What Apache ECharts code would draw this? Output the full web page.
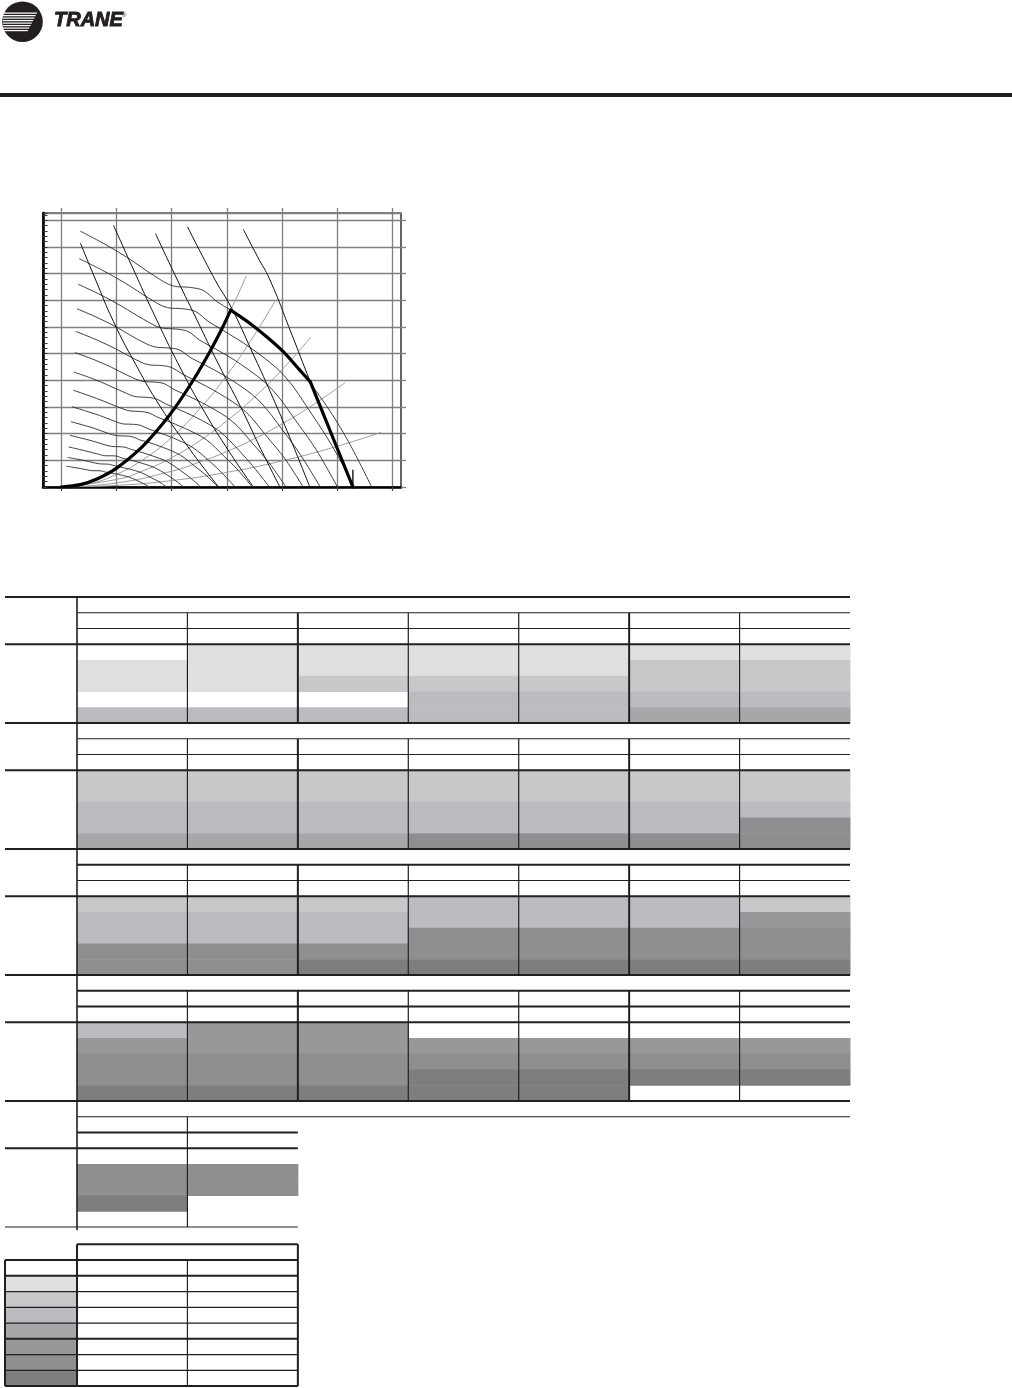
<!DOCTYPE html>
<html>
<head>
<meta charset="utf-8">
<script src="https://cdn.jsdelivr.net/npm/echarts@6.0.0/dist/echarts.min.js"></script>
<style>
  html, body { margin: 0; padding: 0; background: #fff; }
  #page { width: 1012px; height: 1388px; }
</style>
</head>
<body>
<div id="page"></div>
<script>
// ---- fan curve chart data (x: airflow units, y: pressure units) ----
// constant-speed curves, highest first
const fanCurves = [
  [[0.35,9.59],[0.83,9.06],[1.25,8.53],[1.67,7.94],[2.04,7.53],[2.34,7.48],[2.58,7.36],[2.82,6.95],[3.07,6.63],[3.42,6.13],[3.72,5.63],[4.02,5.07],[4.32,4.38],[4.80,3.05],[5.20,1.70],[5.62,0]],
  [[0.33,8.56],[0.78,8.09],[1.18,7.62],[1.58,7.09],[1.93,6.72],[2.21,6.68],[2.44,6.57],[2.66,6.21],[2.91,5.90],[3.46,5.17],[4.04,4.17],[4.54,2.72],[4.91,1.52],[5.31,0]],
  [[0.31,7.60],[0.74,7.18],[1.11,6.76],[1.49,6.29],[1.82,5.96],[2.08,5.92],[2.30,5.83],[2.51,5.50],[2.74,5.24],[3.26,4.59],[3.80,3.70],[4.27,2.42],[4.63,1.35],[5.00,0]],
  [[0.29,6.68],[0.69,6.32],[1.04,5.95],[1.39,5.53],[1.70,5.25],[1.95,5.21],[2.15,5.13],[2.35,4.84],[2.57,4.61],[3.06,4.04],[3.57,3.26],[4.01,2.13],[4.34,1.18],[4.69,0]],
  [[0.27,5.83],[0.65,5.51],[0.98,5.19],[1.30,4.83],[1.59,4.58],[1.83,4.55],[2.01,4.47],[2.20,4.23],[2.40,4.02],[2.85,3.52],[3.33,2.84],[3.74,1.85],[4.06,1.03],[4.38,0]],
  [[0.25,5.04],[0.60,4.77],[0.91,4.49],[1.21,4.18],[1.48,3.96],[1.70,3.93],[1.87,3.87],[2.04,3.66],[2.23,3.48],[2.65,3.05],[3.10,2.46],[3.48,1.60],[3.77,0.89],[4.07,0]],
  [[0.23,4.31],[0.56,4.07],[0.84,3.83],[1.12,3.57],[1.37,3.38],[1.57,3.36],[1.73,3.30],[1.89,3.12],[2.06,2.97],[2.45,2.60],[2.86,2.10],[3.22,1.37],[3.48,0.76],[3.77,0]],
  [[0.22,3.63],[0.51,3.42],[0.77,3.22],[1.03,3.00],[1.25,2.85],[1.44,2.83],[1.59,2.78],[1.73,2.63],[1.89,2.50],[2.25,2.19],[2.63,1.77],[2.95,1.15],[3.20,0.64],[3.46,0]],
  [[0.20,3.01],[0.46,2.84],[0.70,2.68],[0.94,2.49],[1.14,2.36],[1.31,2.35],[1.44,2.31],[1.58,2.18],[1.72,2.08],[2.05,1.82],[2.39,1.47],[2.69,0.96],[2.91,0.53],[3.15,0]],
  [[0.18,2.45],[0.42,2.31],[0.63,2.18],[0.84,2.02],[1.03,1.92],[1.18,1.91],[1.30,1.88],[1.42,1.77],[1.56,1.69],[1.85,1.48],[2.16,1.19],[2.42,0.78],[2.63,0.43],[2.84,0]],
  [[0.16,1.94],[0.37,1.83],[0.56,1.73],[0.75,1.61],[0.92,1.52],[1.05,1.51],[1.16,1.49],[1.27,1.41],[1.39,1.34],[1.65,1.17],[1.92,0.95],[2.16,0.62],[2.34,0.34],[2.53,0]],
  [[0.14,1.50],[0.33,1.41],[0.49,1.33],[0.66,1.24],[0.81,1.17],[0.92,1.17],[1.02,1.15],[1.11,1.08],[1.22,1.03],[1.45,0.90],[1.69,0.73],[1.90,0.48],[2.05,0.27],[2.22,0]],
  [[0.12,1.11],[0.28,1.05],[0.43,0.99],[0.57,0.92],[0.69,0.87],[0.80,0.86],[0.88,0.85],[0.96,0.80],[1.05,0.76],[1.24,0.67],[1.45,0.54],[1.63,0.35],[1.77,0.20],[1.91,0]],
  [[0.10,0.78],[0.24,0.73],[0.36,0.69],[0.48,0.64],[0.58,0.61],[0.67,0.61],[0.74,0.60],[0.80,0.56],[0.88,0.54],[1.04,0.47],[1.22,0.38],[1.37,0.25],[1.48,0.14],[1.60,0]]
];

// steep power lines
const powerLines = [
  [[0.35,9.15],[0.62,7.80],[0.95,6.20],[1.35,4.60],[1.80,3.00],[2.30,1.50],[2.85,0]],
  [[0.95,9.81],[1.30,8.20],[1.70,6.40],[2.15,4.50],[2.60,2.80],[3.05,1.30],[3.48,0]],
  [[1.71,9.50],[2.05,8.00],[2.45,6.30],[2.85,4.60],[3.25,3.00],[3.62,1.40],[3.96,0]],
  [[2.29,9.75],[2.79,7.75],[3.09,6.69],[3.45,5.10],[3.80,3.50],[4.15,1.80],[4.50,0]],
  [[3.30,9.65],[3.55,8.65],[3.78,7.76],[4.15,5.85],[4.51,3.94],[4.90,1.96],[5.28,0]]
];

// grey system curves from the origin
const systemCurves = [
  [[0,0],[0.5,0.18],[1,0.70],[1.5,1.58],[2,2.82],[2.5,4.40],[3,6.34],[3.35,7.90]],
  [[0,0],[0.5,0.12],[1,0.47],[1.5,1.05],[2,1.86],[2.5,2.91],[3,4.19],[3.5,5.70],[3.89,7.03]],
  [[0,0],[1,0.28],[1.5,0.62],[2,1.10],[2.5,1.72],[3,2.48],[3.5,3.37],[4,4.40],[4.52,5.62]],
  [[0,0],[1,0.15],[2,0.59],[2.5,0.93],[3,1.33],[3.5,1.81],[4,2.37],[4.5,3.00],[5.14,3.91]],
  [[0,0],[1,0.06],[2,0.24],[3,0.55],[4,0.98],[5,1.53],[5.79,2.05]]
];

// operating envelope (heavy line)
const envelopeSurge = [[0,0],[0.35,0.09],[0.65,0.30],[1.0,0.70],[1.43,1.43],[1.73,2.10],[2.04,2.91],[2.40,4.03],[2.70,5.10],[2.91,5.93],[3.07,6.63]];
const envelopeTop = [[3.07,6.63],[3.42,6.13],[3.72,5.63],[4.02,5.07],[4.32,4.38],[4.51,3.94]];
const envelopeEnd = [[4.51,3.94],[5.28,0]];
const endMarker = [[5.28,0],[5.28,0.65]];

const xTicks = [0, 1, 2, 3, 4, 5, 6];
const yTicks = [0, 1, 2, 3, 4, 5, 6, 7, 8, 9, 10];

// ---- table shading (index into shadeColors, 0 = blank), one list per column, rows top to bottom ----
const shadeColors = ['#dfe0e2', '#c7c8ca', '#bbbcc0', '#a6a7a9', '#97989a', '#8e8f91', '#7d7e80'];
const block1 = [[0,1,1,0,3],[1,1,1,0,3],[1,1,2,0,3],[1,1,2,3,3],[1,1,2,3,3],[1,2,2,3,4],[1,2,2,3,4]];
const block2 = [[2,2,3,3,4],[2,2,3,3,4],[2,2,3,3,4],[2,2,3,3,6],[2,2,3,3,6],[2,2,3,3,6],[2,2,3,6,6]];
const block3 = [[2,3,3,6,6],[2,3,3,6,6],[2,3,3,6,7],[3,3,6,6,7],[3,3,6,6,7],[3,3,6,6,7],[2,5,6,6,7]];
const block4 = [[3,5,6,6,7],[5,5,6,6,7],[5,5,6,6,7],[0,5,6,7,7],[0,5,6,7,7],[0,5,6,7,0],[0,5,6,7,0]];
const block5 = [[0,6,6,7,0],[0,6,6,0,0]];
const legendShades = [1, 2, 3, 4, 5, 6, 7];

const blocks = [block1, block2, block3, block4, block5];
const TX0 = -0.652;   // left edge of the row-header column (table x units)
const LEG = 41.1;     // first row of the legend table

function cellData() {
  const out = [];
  blocks.forEach((blk, k) => {
    blk.forEach((col, c) => {
      col.forEach((s, j) => {
        if (s) out.push([c, 8 * k + 3 + j, c + 1, 8 * k + 4 + j, s]);
      });
    });
  });
  legendShades.forEach((s, i) => out.push([TX0, LEG + 2 + i, 0, LEG + 3 + i, s]));
  return out;
}

function ruleData() {
  const R = 7, segs = [];
  const sub = [[1.2, 1.2], [1.2, 1.2], [2, 1.2], [2, 2]];
  for (let k = 0; k < 4; k++) {
    const t = 8 * k;
    segs.push([TX0, t, R, t, 2.2]);
    segs.push([0, t + 1, R, t + 1, sub[k][0]]);
    segs.push([0, t + 2, R, t + 2, sub[k][1]]);
    segs.push([TX0, t + 3, R, t + 3, 2.2]);
    for (let c = 1; c < 7; c++) segs.push([c, t + 1, c, t + 8, (c === 2 || c === 5) ? 2 : 1.2]);
  }
  const t = 32;
  segs.push([TX0, t, R, t, 2.2]);
  segs.push([0, t + 1, R, t + 1, 1.2]);
  segs.push([0, t + 2, 2, t + 2, 2]);
  segs.push([TX0, t + 3, 2, t + 3, 2.2]);
  segs.push([1, t + 1, 1, t + 8, 1.2]);
  segs.push([TX0, t + 8, 2, t + 8, 1.2]);
  segs.push([0, 0, 0, t + 8.2, 1.6]);
  // legend
  segs.push([0, LEG, 2, LEG, 2]);
  segs.push([TX0, LEG + 1, 2, LEG + 1, 2]);
  segs.push([TX0, LEG + 2, 2, LEG + 2, 2]);
  [3, 4, 5, 7, 8].forEach(i => segs.push([TX0, LEG + i, 2, LEG + i, 1.2]));
  segs.push([TX0, LEG + 6, 2, LEG + 6, 2]);
  segs.push([TX0, LEG + 9, 2, LEG + 9, 2]);
  segs.push([TX0, LEG + 1, TX0, LEG + 9, 2]);
  segs.push([0, LEG, 0, LEG + 9, 2]);
  segs.push([1, LEG + 1, 1, LEG + 9, 1.2]);
  segs.push([2, LEG, 2, LEG + 9, 2]);
  return segs;
}

const chart = echarts.init(document.getElementById('page'), null, { renderer: 'canvas' });

const series = [];
systemCurves.forEach(pts => series.push({
  type: 'line', data: pts, symbol: 'none', smooth: true, silent: true, z: 2,
  lineStyle: { color: '#9c9c9c', width: 1 }
}));
fanCurves.forEach(pts => series.push({
  type: 'line', data: pts, symbol: 'none', smooth: 0.35, silent: true, z: 3,
  lineStyle: { color: '#2b2b2b', width: 0.9 }
}));
powerLines.forEach(pts => series.push({
  type: 'line', data: pts, symbol: 'none', smooth: true, silent: true, z: 3,
  lineStyle: { color: '#111', width: 1 }
}));
[envelopeSurge, envelopeTop, envelopeEnd].forEach(pts => series.push({
  type: 'line', data: pts, symbol: 'none', smooth: pts.length > 2 ? 0.3 : false, silent: true, z: 5,
  lineStyle: { color: '#000', width: 3.2, cap: 'round', join: 'round' }
}));
series.push({
  type: 'line', data: endMarker, symbol: 'none', silent: true, z: 5,
  lineStyle: { color: '#000', width: 1.3 }
});

series.push({
  type: 'custom', xAxisIndex: 2, yAxisIndex: 3, silent: true, z: 1,
  data: cellData(),
  renderItem: (params, api) => {
    const a = api.coord([api.value(0), api.value(1)]);
    const b = api.coord([api.value(2), api.value(3)]);
    return {
      type: 'rect',
      shape: { x: a[0], y: a[1], width: b[0] - a[0] + 0.5, height: b[1] - a[1] + 0.5 },
      style: { fill: shadeColors[api.value(4) - 1] }
    };
  }
});
series.push({
  type: 'custom', xAxisIndex: 2, yAxisIndex: 3, silent: true, z: 4,
  data: ruleData(),
  renderItem: (params, api) => {
    const a = api.coord([api.value(0), api.value(1)]);
    const b = api.coord([api.value(2), api.value(3)]);
    return {
      type: 'line',
      shape: { x1: a[0], y1: a[1], x2: b[0], y2: b[1] },
      style: { stroke: '#231f20', lineWidth: api.value(4) }
    };
  }
});

// white swoosh stripes inside the logo disc
const stripes = [];
for (let i = 0; i < 8; i++) {
  stripes.push({
    type: 'rect', shape: { x: 3, y: 12.5 + i * 2.5, width: 34 - i * 1.3, height: 1.2 },
    style: { fill: '#fff' }, z: 11
  });
}

const option = {
  animation: false,
  backgroundColor: '#fff',
  grid: [
    { left: 43, top: 213, width: 358, height: 274, show: true, borderColor: '#000', borderWidth: 1.2, backgroundColor: 'transparent' },
    { left: 5, top: 597, width: 845, height: 789.1 }
  ],
  xAxis: [
    {
      type: 'value', gridIndex: 0, position: 'bottom', min: -0.325, max: 6.15, minInterval: 1, maxInterval: 1,
      axisLine: { onZero: false, lineStyle: { color: '#000', width: 2.6 } },
      axisTick: { show: true, inside: false, length: 4, customValues: xTicks, lineStyle: { color: '#444', width: 1.2 } },
      axisLabel: { show: false },
      splitLine: { show: true, lineStyle: { color: '#7f7f7f', width: 1.3 } }
    },
    {
      type: 'value', gridIndex: 0, position: 'top', min: -0.325, max: 6.15, minInterval: 1, maxInterval: 1,
      axisLine: { show: false, onZero: false },
      axisTick: { show: true, inside: false, length: 5, customValues: xTicks, lineStyle: { color: '#7f7f7f', width: 1.3 } },
      axisLabel: { show: false }, splitLine: { show: false }
    },
    { type: 'value', gridIndex: 1, min: TX0, max: 7, show: false }
  ],
  yAxis: [
    {
      type: 'value', gridIndex: 0, position: 'left', min: 0, max: 10.27, interval: 1,
      axisLine: { onZero: false, lineStyle: { color: '#000', width: 2.6 } },
      axisTick: { show: false }, axisLabel: { show: false },
      splitLine: { show: true, lineStyle: { color: '#7f7f7f', width: 1.3 } }
    },
    {
      type: 'value', gridIndex: 0, position: 'left', min: 0, max: 10.27, interval: 0.2,
      axisLine: { show: false, onZero: false },
      axisTick: { show: true, inside: true, length: 4.5, lineStyle: { color: '#333', width: 1 } },
      axisLabel: { show: false }, splitLine: { show: false }
    },
    {
      type: 'value', gridIndex: 0, position: 'right', min: 0, max: 10.27, interval: 1,
      axisLine: { show: false, onZero: false },
      axisTick: { show: true, inside: false, length: 5, customValues: yTicks, lineStyle: { color: '#7f7f7f', width: 1.3 } },
      axisLabel: { show: false }, splitLine: { show: false }
    },
    { type: 'value', gridIndex: 1, min: 0, max: 50.1, inverse: true, show: false }
  ],
  graphic: [
    { type: 'circle', shape: { cx: 22.5, cy: 21.7, r: 20.3 }, style: { fill: '#231f20' }, z: 10 },
    ...stripes,
    { type: 'text', x: 54, y: 20.5, z: 10,
      style: { text: 'TRANE', font: 'italic 900 20px "Liberation Sans", Arial, sans-serif', fill: '#231f20',
               stroke: '#231f20', lineWidth: 0.9, verticalAlign: 'middle' } },
    { type: 'text', x: 122, y: 15, z: 10,
      style: { text: '®', font: '6px "Liberation Sans", Arial, sans-serif', fill: '#231f20', verticalAlign: 'middle' } },
    { type: 'rect', shape: { x: 0, y: 93, width: 1012, height: 4 }, style: { fill: '#231f20' }, z: 10 }
  ],
  series: series
};

chart.setOption(option);
</script>
</body>
</html>
